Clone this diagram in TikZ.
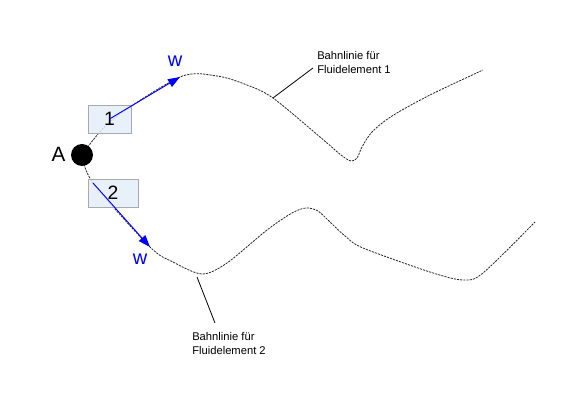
\documentclass[tikz,border=0pt]{standalone}
\usepackage{fontspec}
\setmainfont{Liberation Sans}
\usetikzlibrary{arrows.meta}
\definecolor{boxfill}{RGB}{228,238,248}
\definecolor{boxline}{RGB}{165,170,175}

\begin{document}
\begin{tikzpicture}[x=0.75pt,y=-0.75pt,
    bahn/.style={dash pattern=on 1.6pt off 0.8pt,line width=0.6pt,color=black!85},
    wvec/.style={blue,line width=0.7pt,-{Triangle[length=9pt,width=6.5pt]}},
    nrbox/.style={draw=boxline,fill=boxfill,fill opacity=0.85,text opacity=1,minimum height=21pt,inner sep=0pt,font=\fontsize{14.5}{16}\selectfont},
    note/.style={align=left,inner sep=0pt,font=\fontsize{8.4}{10.5}\selectfont}]

  \useasboundingbox (0,0) rectangle (575,402);

  \coordinate (A) at (82,155);
  \coordinate (tip1) at (180,77);
  \coordinate (tip2) at (150,247);
  \coordinate (s2) at (93,183);

  % Bahnlinien
  \draw[bahn] plot[smooth,tension=0.5] coordinates {(A) (112,120) (tip1) (217,76) (247,85) (273,98)
      (320,137) (341,155) (351,161) (357,158) (362,147) (372,132) (392,116) (430,95) (483,70)};
  \draw[bahn] plot[smooth,tension=0.5] coordinates {(A) (s2) (tip2) (173,262) (202,274) (227,263)
      (267,230) (292,213) (306,208) (318,211) (330,222) (345,236) (363,248) (430,272) (463,280) (483,273) (535,222)};

  \node[nrbox,minimum width=32.25pt] (box1) at (109.5,119) {1};
  \node[nrbox,minimum width=37.5pt] (box2) at (113,193) {2};

  \draw[wvec] (box1.center) -- (tip1);
  \draw[wvec] (s2) -- (tip2);

  \node[circle,fill=black,minimum size=16.5pt,inner sep=0pt] (dotA) at (A) {};
  \node[font=\fontsize{15.5}{17}\selectfont] (lblA) at (58.5,154) {A};

  \node[blue,font=\fontsize{15}{17}\selectfont] (w1) at (175,61) {w};
  \node[blue,font=\fontsize{15}{17}\selectfont] (w2) at (140,259) {w};

  % Beschriftungen
  \node[note,anchor=north west] (lbl1) at (317,51) {Bahnlinie für\\Fluidelement 1};
  \node[note,anchor=north west] (lbl2) at (192,332) {Bahnlinie für\\Fluidelement 2};

  \coordinate (c1) at (273,98);
  \coordinate (e1) at (313,68);
  \coordinate (c2) at (197,277);
  \coordinate (e2) at (215,323);
  \draw[line width=0.6pt] (c1) -- (e1);
  \draw[line width=0.6pt] (c2) -- (e2);
\end{tikzpicture}
\end{document}
